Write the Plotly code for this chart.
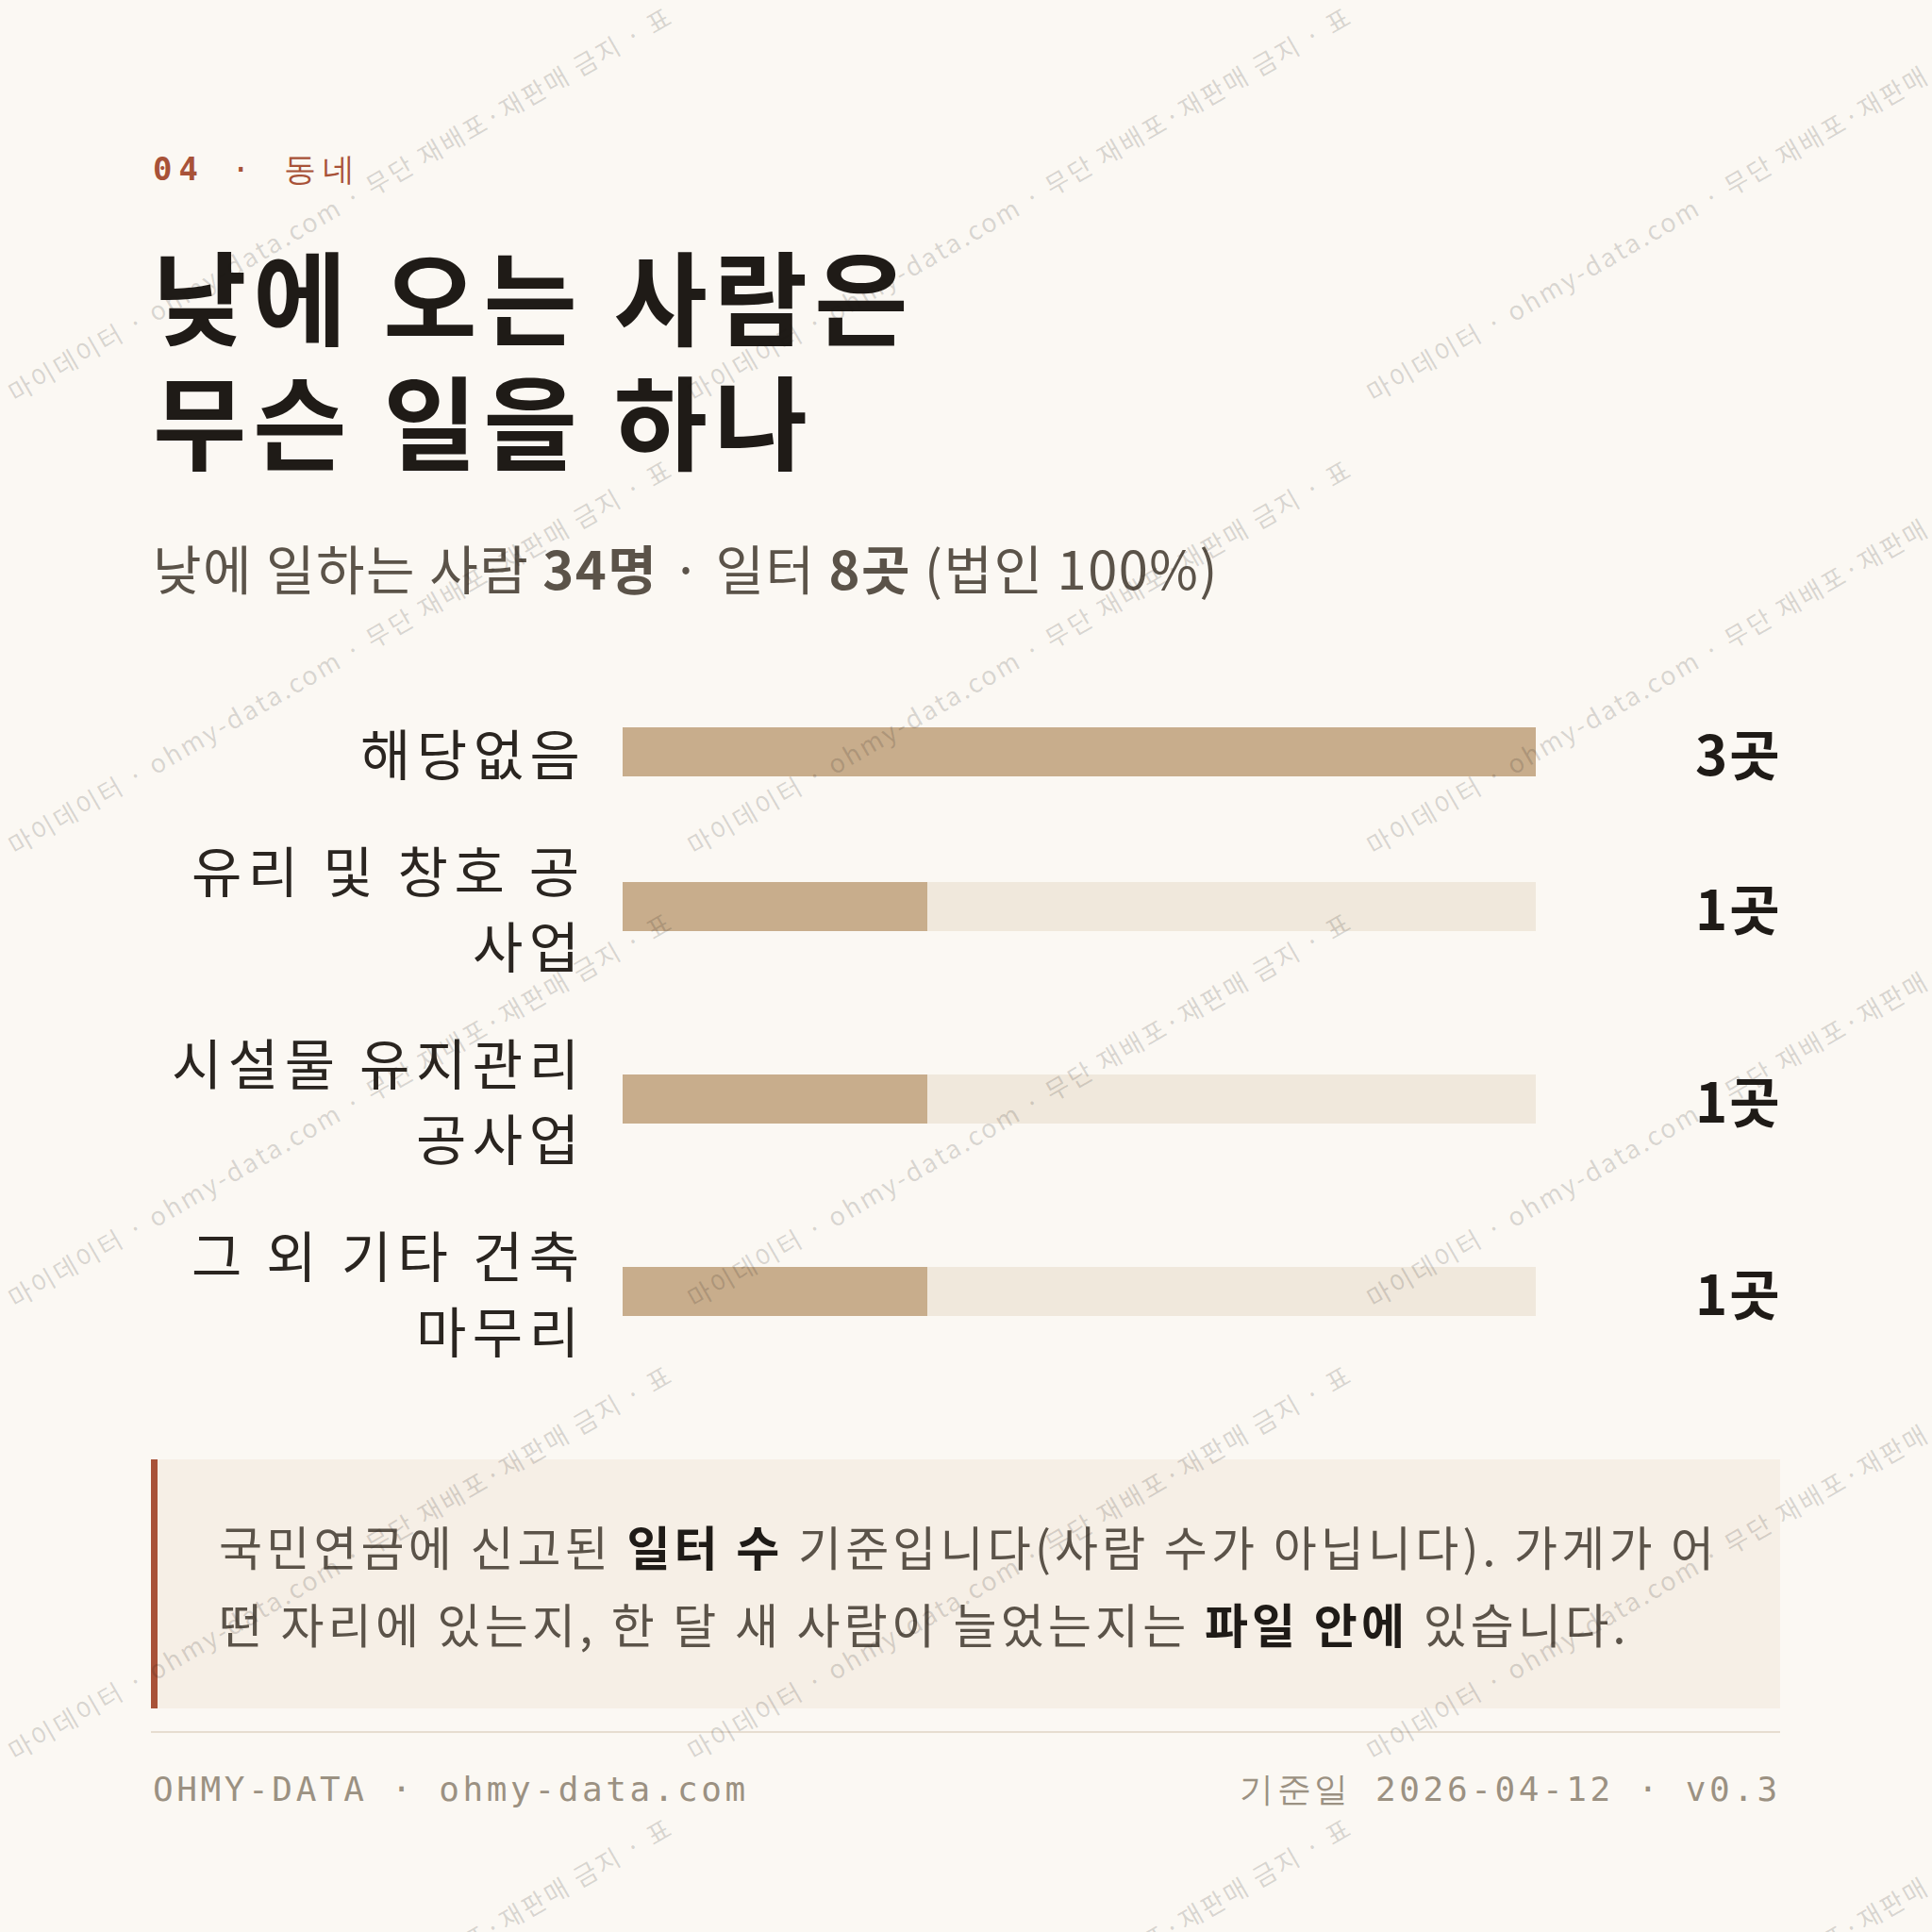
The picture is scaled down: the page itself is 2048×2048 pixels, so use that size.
import plotly.graph_objects as go

W = H = 2048

# ---------------- data ----------------
categories = ["해당없음", "유리 및 창호 공<br>사업", "시설물 유지관리<br>공사업", "그 외 기타 건축<br>마무리"]
values = [3, 1, 1, 1]
value_labels = ["3곳", "1곳", "1곳", "1곳"]

kicker_num = "04"
kicker_text = " · 동네"
title_lines = ["낮에 오는 사람은", "무슨 일을 하나"]
subtitle = "낮에 일하는 사람 <b>34명</b> · 일터 <b>8곳</b> (법인 100%)"
note_lines = [
    "국민연금에 신고된 <b><span style='color:#1f1b17'>일터 수</span></b> 기준입니다(사람 수가 아닙니다). 가게가 어",
    "떤 자리에 있는지, 한 달 새 사람이 늘었는지는 <b><span style='color:#1f1b17'>파일 안에</span></b> 있습니다.",
]
footer_left = "OHMY-DATA · ohmy-data.com"
footer_right = "기준일 2026-04-12 · v0.3"
watermark = "마이데이터 · ohmy-data.com · 무단 재배포·재판매 금지 · 표"

# ---------------- style ----------------
BG = "#FBF8F3"
FILL = "#C8AD8C"
TRACK = "#F0E8DC"
INK = "#1F1B17"
LABEL = "#2A2520"
MUTED = "#5B5349"
ACCENT = "#A85238"
FOOT = "#9B9182"
NOTE_BG = "#F6EFE6"
RULE = "#E6DDD0"
SANS = "Noto Sans CJK KR"
MONO = "DejaVu Sans Mono"

LEFT, RIGHT = 160, 1887
BAR_X0, BAR_X1 = 660, 1628
LABEL_X = 617
ROW_TOP, LINE_H, GAP, BAR_H = 757, 80, 44, 52


def px(x):
    return x / W


def py(y):
    return 1 - y / H


def ls(text, sp):
    return f"<span style='letter-spacing:{sp}px'>{text}</span>"


# row layout derived from the number of label lines
centers = []
cur = ROW_TOP
for c in categories:
    n = c.count("<br>") + 1
    h = n * LINE_H
    centers.append(cur + h / 2)
    cur += h + GAP

vmax = max(values)

fig = go.Figure()
fig.add_trace(go.Bar(x=[vmax] * len(values), y=centers, orientation="h", width=BAR_H,
                     marker=dict(color=TRACK, line=dict(width=0)), hoverinfo="skip", showlegend=False))
fig.add_trace(go.Bar(x=values, y=centers, orientation="h", width=BAR_H,
                     marker=dict(color=FILL, line=dict(width=0)), hoverinfo="skip", showlegend=False))

ann = []
# kicker
ann.append(dict(x=px(LEFT), y=py(179), xref="paper", yref="paper", xanchor="left", yanchor="middle",
                text=f"<b>{ls(kicker_num, 7)}</b>{ls(kicker_text, 7.5)}",
                showarrow=False, font=dict(family=MONO, size=34, color=ACCENT)))
# title
for i, t in enumerate(title_lines):
    ann.append(dict(x=px(LEFT), y=py(311 + i * 132), xref="paper", yref="paper", xanchor="left", yanchor="middle",
                    text=f"<b>{ls(t, 7)}</b>", showarrow=False, font=dict(family=SANS, size=108, color=INK)))
# subtitle
ann.append(dict(x=px(LEFT), y=py(600), xref="paper", yref="paper", xanchor="left", yanchor="middle",
                text=ls(subtitle, 1.5), showarrow=False, font=dict(family=SANS, size=56, color=MUTED)))
# category labels and values
for c, yc, vl in zip(categories, centers, value_labels):
    lines = c.split("<br>")
    n = len(lines)
    for i, line in enumerate(lines):
        ann.append(dict(x=px(LABEL_X + 6), y=yc + (i - (n - 1) / 2) * LINE_H, xref="paper", yref="y",
                        xanchor="right", yanchor="middle", text=ls(line, 6.5), showarrow=False,
                        font=dict(family=SANS, size=58, color=LABEL)))
    ann.append(dict(x=px(1891), y=yc, xref="paper", yref="y", xanchor="right", yanchor="middle",
                    text=f"<b>{ls(vl, 2)}</b>", showarrow=False, font=dict(family=SANS, size=58, color=INK)))
# note
for i, t in enumerate(note_lines):
    ann.append(dict(x=px(230), y=py(1638 + i * 82), xref="paper", yref="paper", xanchor="left", yanchor="middle",
                    text=ls(t, 4.2), showarrow=False, font=dict(family=SANS, size=50, color=MUTED)))
# footer
ann.append(dict(x=px(LEFT), y=py(1896), xref="paper", yref="paper", xanchor="left", yanchor="middle",
                text=ls(footer_left, 3.6), showarrow=False,
                font=dict(family=MONO, size=36, color=FOOT)))
ann.append(dict(x=px(RIGHT + 3), y=py(1896), xref="paper", yref="paper", xanchor="right", yanchor="middle",
                text=ls(footer_right, 3.6), showarrow=False,
                font=dict(family=MONO, size=36, color=FOOT)))
# watermark tiles
for cy in [215, 695, 1175, 1655, 2135]:
    for cx in [360, 1080, 1800]:
        ann.append(dict(x=px(cx), y=py(cy), xref="paper", yref="paper", xanchor="center", yanchor="middle",
                        text=ls(watermark, 2.5), showarrow=False,
                        textangle=-30, font=dict(family=SANS, size=27, color="rgba(30,25,20,0.17)")))

shapes = [
    dict(type="rect", xref="paper", yref="paper", x0=px(LEFT), x1=px(RIGHT), y0=py(1547), y1=py(1811),
         fillcolor=NOTE_BG, line=dict(width=0), layer="below"),
    dict(type="rect", xref="paper", yref="paper", x0=px(LEFT), x1=px(LEFT + 7), y0=py(1547), y1=py(1811),
         fillcolor=ACCENT, line=dict(width=0), layer="below"),
    dict(type="line", xref="paper", yref="paper", x0=px(LEFT), x1=px(RIGHT), y0=py(1836), y1=py(1836),
         line=dict(color=RULE, width=2)),
]

fig.update_layout(
    width=W, height=H, margin=dict(l=0, r=0, t=0, b=0),
    paper_bgcolor=BG, plot_bgcolor="rgba(0,0,0,0)",
    barmode="overlay", bargap=0,
    xaxis=dict(domain=[px(BAR_X0), px(BAR_X1)], range=[0, vmax], visible=False, fixedrange=True),
    yaxis=dict(domain=[0, 1], range=[H, 0], visible=False, fixedrange=True),
    annotations=ann, shapes=shapes, showlegend=False,
)

fig.write_html("out.html", config={"displayModeBar": False},
               post_script="document.body.style.margin='0';document.body.style.background='" + BG + "';")
